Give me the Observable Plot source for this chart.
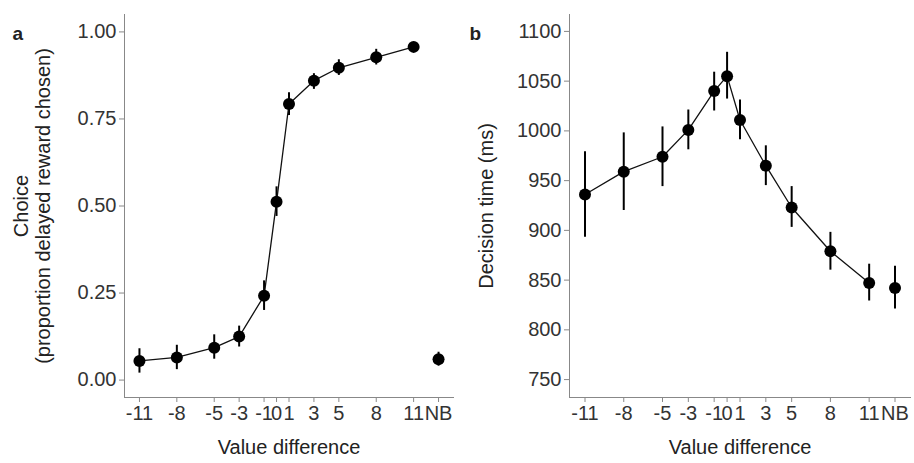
<!DOCTYPE html>
<html><head><meta charset="utf-8">
<script src="https://cdn.jsdelivr.net/npm/d3@7"></script>
<script src="https://cdn.jsdelivr.net/npm/@observablehq/plot@0.6"></script>
<style>body{margin:0;background:#fff;font-family:Arial,"Liberation Sans",sans-serif}#wrap{display:flex}
g[aria-label="x-axis tick label"],g[aria-label="y-axis tick label"]{font-size:20px;fill:#333}</style>
</head><body><div id="wrap"></div>
<script>
const labels = ["-11","-8","-5","-3","-1","0","1","3","5","8","11","NB"];
const xpos = [-11,-8,-5,-3,-1,0,1,3,5,8,11,13];
const choice = [0.055,0.065,0.093,0.125,0.242,0.512,0.793,0.86,0.897,0.927,0.957,0.06];
const choiceLo = [0.02,0.03,0.06,0.095,0.20,0.47,0.76,0.835,0.875,0.905,0.945,0.04];
const choiceHi = [0.09,0.10,0.13,0.155,0.285,0.555,0.825,0.88,0.92,0.95,0.97,0.08];
const rt = [936,959,974,1001,1040,1055,1011,965,923,879,847,842];
const rtLo = [893,920,944,981,1020,1032,991,945,903,860,829,821];
const rtHi = [979,998,1004,1021,1059,1079,1031,985,944,898,866,864];

function panel(vals, lo, hi, yDomain, yTicks, yFmt, yLabel, letter, ml, yLabelDx) {
  const data = labels.map((l,i)=>({x:xpos[i], y:vals[i], lo:lo[i], hi:hi[i], nb:l==="NB"}));
  const line = data.filter(d=>!d.nb);
  return Plot.plot({
    width:457, height:463, marginLeft:ml, marginRight:4, marginTop:14, marginBottom:66,
    style:{fontSize:"18px", fontFamily:"Arial, 'Liberation Sans', sans-serif", color:"#222"},
    x:{domain:[-12.2,14.2], label:null},
    y:{domain:yDomain, label:null},
    marks:[
      Plot.axisX({ticks:xpos, tickFormat:d=>labels[xpos.indexOf(d)], tickSize:5, tickPadding:3, stroke:"#888"}),
      Plot.axisY({ticks:yTicks, tickFormat:yFmt, tickSize:5, tickPadding:3, stroke:"#888"}),
      Plot.frame({anchor:"left", stroke:"#888"}),
      Plot.frame({anchor:"bottom", stroke:"#888"}),
      Plot.ruleX(data, {x:"x", y1:"lo", y2:"hi", stroke:"#000", strokeWidth:2}),
      Plot.line(line, {x:"x", y:"y", stroke:"#111", strokeWidth:1.3}),
      Plot.dot(data, {x:"x", y:"y", r:6, fill:"#000"}),
      Plot.text([yLabel], {frameAnchor:"left", textAnchor:"middle", lineAnchor:"middle", rotate:-90, dx:yLabelDx, fontSize:20, lineHeight:1.1, fill:"#222"}),
      Plot.text(["Value difference"], {frameAnchor:"bottom", textAnchor:"middle", dy:56, fontSize:20, fill:"#222"}),
      Plot.text([letter], {frameAnchor:"top-left", dx:-ml+12, dy:12, fontSize:19, fontWeight:"bold"})
    ]
  });
}
const wrap = document.getElementById("wrap");
wrap.append(panel(choice, choiceLo, choiceHi, [-0.05,1.05], [0,0.25,0.5,0.75,1], d3.format(".2f"),
  "Choice\n(proportion delayed reward chosen)", "a", 124, -93));
wrap.append(panel(rt, rtLo, rtHi, [732,1117], [750,800,850,900,950,1000,1050,1100], d=>String(d),
  "Decision time (ms)", "b", 112, -84));
</script></body></html>
